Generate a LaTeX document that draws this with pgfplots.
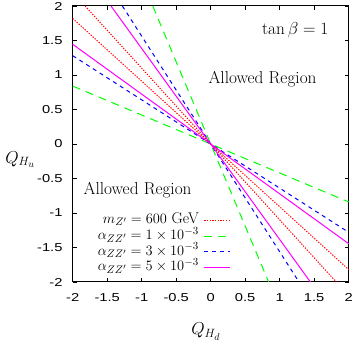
\documentclass[border=0pt]{standalone}
\usepackage{fontspec}
\usepackage{pgfplots}
\pgfplotsset{compat=1.18}
\newfontfamily\helv[FakeStretch=1.28]{Liberation Sans}
\definecolor{gpred}{rgb}{1,0,0}
\definecolor{gpgreen}{rgb}{0,1,0}
\definecolor{gpblue}{rgb}{0,0,1}
\definecolor{gpmag}{rgb}{1,0,1}
\pgfplotsset{
  redline/.style={gpred, line width=1pt, dash pattern=on 1.3pt off 1.4pt},
  greenline/.style={gpgreen, line width=1pt, dash pattern=on 8pt off 6pt},
  blueline/.style={gpblue, line width=1pt, dash pattern=on 4pt off 4pt},
  magline/.style={gpmag, line width=1pt},
}
\begin{document}
\begin{tikzpicture}[font=\LARGE]
\useasboundingbox (-72.7pt,-62pt) rectangle (282.3pt,282pt);
\begin{axis}[
  scale only axis, width=276pt, height=276pt,
  xmin=-2, xmax=2, ymin=-2, ymax=2,
  xtick={-2,-1.5,-1,-0.5,0,0.5,1,1.5,2},
  ytick={-2,-1.5,-1,-0.5,0,0.5,1,1.5,2},
  xticklabels={-2,-1.5,-1,-0.5,0,0.5,1,1.5,2},
  yticklabels={-2,-1.5,-1,-0.5,0,0.5,1,1.5,2},
  tick label style={font={\fontsize{11.5}{13}\helv}},
  xticklabel style={anchor=north, inner sep=0pt, yshift=-11pt},
  yticklabel style={anchor=east, inner sep=0pt, xshift=-10pt},
  major tick length=4pt,
  tick align=inside,
  axis line style={line width=1pt},
  every tick/.style={black, line width=0.8pt},
  clip=false,
]
% legend samples
\addplot[redline, line width=1.2pt] coordinates {(-0.094,-1.1087) (0.283,-1.1087)};
\addplot[greenline, line width=1.2pt] coordinates {(-0.094,-1.3406) (0.283,-1.3406)};
\addplot[blueline, line width=1.2pt] coordinates {(-0.094,-1.5580) (0.283,-1.5580)};
\addplot[magline, line width=1.2pt] coordinates {(-0.094,-1.7899) (0.283,-1.7899)};
% curves
\addplot[redline] coordinates {(-2,1.82) (0,0) (2,-1.82)};
\addplot[greenline] coordinates {(-2,0.84) (0,0) (2,-0.84)};
\addplot[blueline] coordinates {(-2,1.28) (0,0) (2,-1.28)};
\addplot[magline] coordinates {(-2,1.445) (0,0) (2,-1.445)};
\addplot[redline] coordinates {(-1.82,2) (0,0) (1.82,-2)};
\addplot[greenline] coordinates {(-0.84,2) (0,0) (0.84,-2)};
\addplot[blueline] coordinates {(-1.28,2) (0,0) (1.28,-2)};
\addplot[magline] coordinates {(-1.445,2) (0,0) (1.445,-2)};
\begin{scope}[every node/.style={anchor=base east, inner sep=0pt, font={\fontsize{15.5}{18}\selectfont}}]
\node at (axis cs:-0.17,-1.148) {$m_{Z'}=600$ GeV};
\node at (axis cs:-0.17,-1.384) {$\alpha_{ZZ'}=1\times10^{-3}$};
\node at (axis cs:-0.17,-1.609) {$\alpha_{ZZ'}=3\times10^{-3}$};
\node at (axis cs:-0.17,-1.833) {$\alpha_{ZZ'}=5\times10^{-3}$};
\end{scope}
\node[anchor=base east] at (axis cs:1.755,1.58) {$\tan\beta=1$};
\node[anchor=base west] at (axis cs:-0.083,0.884) {Allowed Region};
\node[anchor=base west] at (axis cs:-1.894,-0.739) {Allowed Region};
\node[anchor=base west] at (rel axis cs:-0.257,0.431) {$Q_{H_u}$};
\node[anchor=base] at (rel axis cs:0.483,-0.192) {$Q_{H_d}$};
\end{axis}
\end{tikzpicture}
\end{document}
